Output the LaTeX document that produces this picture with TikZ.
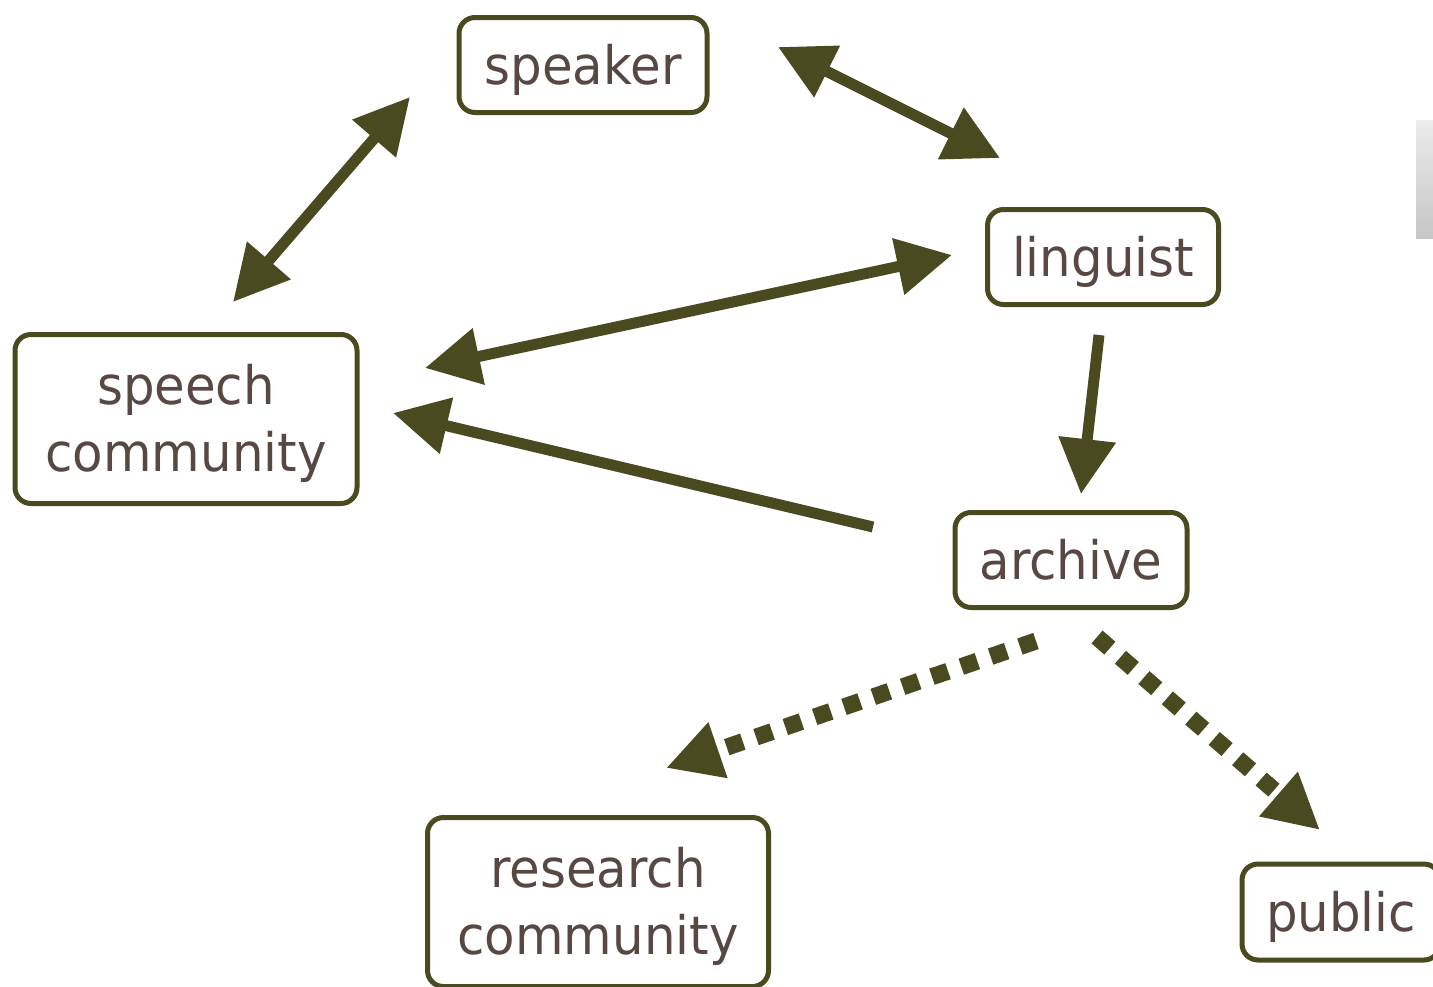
\documentclass[tikz,border=0pt]{standalone}
\usepackage{fontspec}
\setmainfont{DejaVu Sans}[FakeStretch=0.94]
\usetikzlibrary{arrows.meta}
\definecolor{olive}{RGB}{74,74,32}
\definecolor{txt}{RGB}{88,72,68}
\newcommand{\boxtext}[1]{\raisebox{-6pt}[\height][\depth]{\begin{tabular}{@{}c@{}}#1\end{tabular}}}
\begin{document}
\begin{tikzpicture}[x=1pt,y=-1pt,
  box/.style={draw=olive,line width=5pt,rounded corners=16pt,fill=white,
    text=txt,font=\fontsize{53}{67}\selectfont,align=center,inner sep=0pt},
  conn/.style={draw=olive,line width=11pt,-{Triangle[length=55pt,width=55pt]}},
  dconn/.style={conn,line width=11pt,{Triangle[length=55pt,width=55pt]}-{Triangle[length=55pt,width=55pt]}},
  dotconn/.style={draw=olive,line width=17pt,dash pattern=on 17pt off 14pt,-{Triangle[length=55pt,width=55pt]}}]
\useasboundingbox (0,0) rectangle (1433,986);
% gray fragment at right edge
\shade[top color=gray!15,bottom color=gray!45] (1416,120) rectangle (1433,238);
% boxes
\node[box,minimum width=248pt,minimum height=95pt] (speaker) at (583,65) {\boxtext{speaker}};
\node[box,minimum width=231pt,minimum height=95pt] (linguist) at (1103,257) {\boxtext{linguist}};
\node[box,minimum width=342pt,minimum height=169pt] (speech) at (186,419) {\boxtext{speech\\community}};
\node[box,minimum width=232pt,minimum height=95pt] (archive) at (1071,560) {\boxtext{archive}};
\node[box,minimum width=341pt,minimum height=169pt] (research) at (598,902) {\boxtext{research\\community}};
\node[box,minimum width=198pt,minimum height=96pt] (public) at (1341,912) {\boxtext{public}};
% connector end points
\coordinate (a1) at (410,97);  \coordinate (a2) at (233,302);
\coordinate (b1) at (778,47);  \coordinate (b2) at (1000,158);
\coordinate (c1) at (952,255); \coordinate (c2) at (425,368);
\coordinate (d1) at (873,527); \coordinate (d2) at (393,413);
\coordinate (e1) at (1099,335); \coordinate (e2) at (1081,494);
\coordinate (f1) at (1036,641); \coordinate (f2) at (666,768);
\coordinate (g1) at (1097,637); \coordinate (g2) at (1320,830);
% connectors
\draw[dconn] (a1) -- (a2);
\draw[dconn] (b1) -- (b2);
\draw[dconn] (c1) -- (c2);
\draw[conn] (d1) -- (d2);
\draw[conn] (e1) -- (e2);
\draw[dotconn] (f1) -- (f2);
\draw[dotconn] (g1) -- (g2);
\end{tikzpicture}
\end{document}
